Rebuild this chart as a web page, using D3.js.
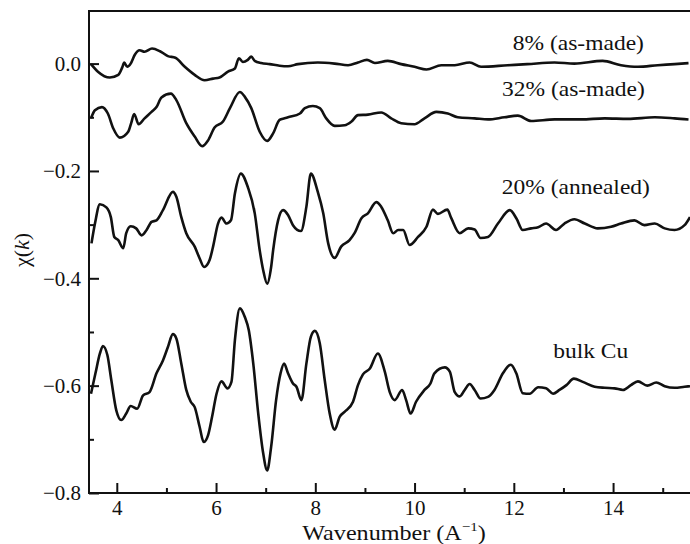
<!DOCTYPE html>
<html>
<head>
<meta charset="utf-8">
<script src="https://cdnjs.cloudflare.com/ajax/libs/d3/7.8.5/d3.min.js"></script>
<style>
    body { margin: 0; background: #fff; }
    svg text { font-family: "Liberation Serif", "DejaVu Serif", serif; fill: #111; }
</style>
</head>
<body>
<svg id="chart" width="690" height="544"></svg>
<script>
'use strict';

// chi(k) traces, k in inverse angstrom
let k8 = [3.48, 3.62, 3.86, 4.03, 4.11, 4.15, 4.21, 4.28, 4.36, 4.46, 4.56, 4.71, 4.87, 5.03, 5.18, 5.37, 5.57, 5.77, 5.94, 6.07, 6.24, 6.38, 6.46, 6.54, 6.64, 6.71, 6.78, 6.91, 7.08, 7.28, 7.45, 7.65, 8.05, 8.39, 8.66, 8.86, 9.04, 9.20, 9.46, 9.73, 10.00, 10.24, 10.54, 10.81, 11.11, 11.34, 11.88, 12.27, 12.82, 13.22, 13.79, 14.16, 14.50, 14.90, 15.24, 15.52],
    chi8 = [-0.001, -0.015, -0.026, -0.021, -0.007, 0.002, -0.006, 0.000, 0.016, 0.025, 0.022, 0.028, 0.023, 0.014, 0.011, -0.006, -0.021, -0.031, -0.028, -0.026, -0.015, -0.009, 0.010, 0.003, 0.007, 0.013, 0.005, 0.001, -0.001, -0.004, -0.005, -0.001, 0.002, 0.000, -0.003, 0.002, 0.007, 0.001, 0.005, -0.001, -0.006, -0.011, -0.003, -0.003, 0.002, -0.006, -0.003, -0.001, 0.002, 0.000, 0.005, -0.003, -0.006, -0.003, -0.001, 0.001];

let k32 = [3.48, 3.56, 3.70, 3.82, 3.93, 4.06, 4.23, 4.29, 4.35, 4.44, 4.56, 4.70, 4.80, 4.90, 5.09, 5.20, 5.40, 5.57, 5.72, 5.84, 5.97, 6.14, 6.28, 6.48, 6.58, 6.71, 6.88, 7.03, 7.15, 7.28, 7.38, 7.45, 7.69, 7.79, 7.95, 8.09, 8.22, 8.39, 8.59, 8.73, 8.86, 9.06, 9.33, 9.53, 9.73, 10.00, 10.20, 10.44, 10.67, 10.87, 11.21, 11.48, 11.81, 12.08, 12.35, 12.82, 13.36, 13.83, 14.30, 14.84, 15.24, 15.52],
    chi32 = [-0.102, -0.087, -0.081, -0.093, -0.121, -0.138, -0.127, -0.111, -0.094, -0.113, -0.102, -0.090, -0.081, -0.063, -0.056, -0.068, -0.111, -0.136, -0.154, -0.143, -0.119, -0.108, -0.083, -0.053, -0.062, -0.083, -0.127, -0.144, -0.130, -0.105, -0.102, -0.100, -0.093, -0.083, -0.079, -0.083, -0.102, -0.116, -0.115, -0.108, -0.096, -0.095, -0.091, -0.102, -0.111, -0.113, -0.102, -0.090, -0.093, -0.100, -0.102, -0.104, -0.100, -0.097, -0.107, -0.104, -0.104, -0.102, -0.103, -0.100, -0.102, -0.104];

let k20 = [3.49, 3.56, 3.66, 3.79, 3.88, 3.95, 4.03, 4.13, 4.19, 4.28, 4.39, 4.50, 4.60, 4.70, 4.80, 4.93, 5.13, 5.20, 5.30, 5.40, 5.57, 5.67, 5.76, 5.87, 5.94, 6.04, 6.11, 6.21, 6.30, 6.38, 6.50, 6.64, 6.78, 6.88, 6.95, 7.03, 7.11, 7.15, 7.25, 7.35, 7.45, 7.55, 7.71, 7.82, 7.91, 8.05, 8.16, 8.26, 8.39, 8.52, 8.69, 8.79, 8.93, 9.06, 9.23, 9.33, 9.46, 9.57, 9.67, 9.77, 9.90, 10.07, 10.24, 10.37, 10.47, 10.66, 10.74, 10.91, 11.08, 11.21, 11.33, 11.48, 11.68, 11.92, 12.05, 12.18, 12.35, 12.49, 12.65, 12.85, 13.02, 13.22, 13.43, 13.69, 13.96, 14.16, 14.43, 14.63, 14.84, 15.04, 15.24, 15.44, 15.55],
    chi20 = [-0.335, -0.298, -0.262, -0.268, -0.286, -0.323, -0.329, -0.344, -0.316, -0.303, -0.307, -0.320, -0.310, -0.295, -0.292, -0.273, -0.239, -0.248, -0.286, -0.316, -0.341, -0.363, -0.379, -0.366, -0.341, -0.298, -0.287, -0.298, -0.292, -0.242, -0.205, -0.230, -0.279, -0.348, -0.385, -0.410, -0.379, -0.348, -0.292, -0.273, -0.282, -0.301, -0.312, -0.267, -0.205, -0.239, -0.279, -0.335, -0.362, -0.341, -0.329, -0.316, -0.288, -0.279, -0.258, -0.267, -0.292, -0.316, -0.310, -0.310, -0.338, -0.323, -0.304, -0.272, -0.280, -0.272, -0.288, -0.316, -0.307, -0.309, -0.325, -0.323, -0.298, -0.273, -0.288, -0.310, -0.307, -0.305, -0.298, -0.310, -0.298, -0.290, -0.298, -0.307, -0.304, -0.298, -0.292, -0.301, -0.298, -0.307, -0.310, -0.301, -0.286];

let kBulk = [3.48, 3.57, 3.66, 3.72, 3.81, 3.89, 3.99, 4.09, 4.19, 4.28, 4.41, 4.53, 4.66, 4.80, 4.93, 5.03, 5.13, 5.20, 5.30, 5.40, 5.49, 5.57, 5.67, 5.75, 5.84, 5.92, 6.01, 6.11, 6.23, 6.31, 6.38, 6.48, 6.58, 6.66, 6.75, 6.85, 6.95, 7.03, 7.11, 7.21, 7.30, 7.37, 7.45, 7.55, 7.62, 7.72, 7.82, 7.91, 7.99, 8.09, 8.19, 8.29, 8.39, 8.49, 8.59, 8.76, 8.86, 8.96, 9.10, 9.26, 9.40, 9.50, 9.60, 9.75, 9.83, 9.92, 10.03, 10.20, 10.32, 10.40, 10.61, 10.71, 10.81, 10.91, 11.01, 11.11, 11.21, 11.33, 11.48, 11.61, 11.78, 11.94, 12.05, 12.18, 12.32, 12.49, 12.65, 12.79, 12.92, 13.06, 13.21, 13.39, 13.63, 13.83, 14.03, 14.20, 14.36, 14.50, 14.69, 14.87, 15.04, 15.24, 15.44, 15.55],
    chiBulk = [-0.615, -0.577, -0.540, -0.526, -0.543, -0.590, -0.646, -0.664, -0.652, -0.638, -0.643, -0.618, -0.612, -0.577, -0.553, -0.528, -0.504, -0.512, -0.559, -0.608, -0.630, -0.640, -0.677, -0.705, -0.692, -0.658, -0.615, -0.592, -0.605, -0.593, -0.515, -0.456, -0.472, -0.497, -0.559, -0.652, -0.726, -0.758, -0.714, -0.627, -0.577, -0.559, -0.577, -0.596, -0.602, -0.627, -0.559, -0.509, -0.498, -0.521, -0.590, -0.652, -0.682, -0.658, -0.649, -0.630, -0.599, -0.579, -0.568, -0.540, -0.574, -0.612, -0.627, -0.608, -0.627, -0.652, -0.630, -0.608, -0.596, -0.577, -0.566, -0.574, -0.612, -0.620, -0.608, -0.597, -0.608, -0.624, -0.621, -0.608, -0.577, -0.561, -0.577, -0.614, -0.615, -0.603, -0.605, -0.615, -0.608, -0.599, -0.587, -0.593, -0.602, -0.604, -0.605, -0.608, -0.599, -0.592, -0.600, -0.594, -0.601, -0.604, -0.602, -0.601];

let seriesLabels = ["8% (as-made)", "32% (as-made)", "20% (annealed)", "bulk Cu"],
    labelK = [13.3, 13.2, 13.25, 13.55],
    labelChi = [0.026, -0.061, -0.243, -0.548];

let xMajor = [4, 6, 8, 10, 12, 14],
    xMinor = [5, 7, 9, 11, 13, 15],
    yMajor = [0.0, -0.2, -0.4, -0.6, -0.8],
    yMinor = [-0.1, -0.3, -0.5, -0.7];

let svg = d3.select("#chart"),
    mLeft = 89, mRight = 690, mTop = 11, mBottom = 493;

let x = d3.scaleLinear().domain([3.44, 15.55]).range([mLeft, mRight]),
    y = d3.scaleLinear().domain([-0.8, 0.098]).range([mBottom, mTop]);

let fmt = d3.format(".1f");

// major ticks with labels, pointing into the plot
svg.append("g")
    .attr("transform", "translate(0," + mBottom + ")")
    .call(d3.axisBottom(x).tickValues(xMajor).tickSize(-10).tickPadding(7).tickFormat(d3.format("d")))
    .call(styleAxis);
svg.append("g")
    .attr("transform", "translate(" + mLeft + ",0)")
    .call(d3.axisLeft(y).tickValues(yMajor).tickSize(-10).tickPadding(8).tickFormat(fmt))
    .call(styleAxis);

// minor ticks
svg.append("g")
    .attr("transform", "translate(0," + mBottom + ")")
    .call(d3.axisBottom(x).tickValues(xMinor).tickSize(-5).tickFormat(""))
    .call(styleAxis);
svg.append("g")
    .attr("transform", "translate(" + mLeft + ",0)")
    .call(d3.axisLeft(y).tickValues(yMinor).tickSize(-5).tickFormat(""))
    .call(styleAxis);

// frame: left, bottom and top
svg.append("path")
    .attr("d", "M" + mRight + "," + mTop + "H" + mLeft + "V" + mBottom + "H" + mRight)
    .attr("fill", "none")
    .attr("stroke", "#111")
    .attr("stroke-width", 2);

let line = d3.line()
    .x(function(d) { return x(d[0]); })
    .y(function(d) { return y(d[1]); })
    .curve(d3.curveMonotoneX);

[[k8, chi8], [k32, chi32], [k20, chi20], [kBulk, chiBulk]].forEach(function(s) {
    svg.append("path")
        .datum(d3.zip(s[0], s[1]))
        .attr("fill", "none")
        .attr("stroke", "#111")
        .attr("stroke-width", 2.6)
        .attr("stroke-linejoin", "round")
        .attr("d", line);
});

// the original lettering is a little wide, so stretch it sideways
seriesLabels.forEach(function(t, i) {
    svg.append("text")
        .attr("transform", "translate(" + x(labelK[i]) + "," + y(labelChi[i]) + ") scale(1.12,1)")
        .attr("text-anchor", "middle")
        .style("font-size", "21px")
        .text(t);
});

// axis titles
let xt = svg.append("text")
    .attr("transform", "translate(394,540) scale(1.15,1)")
    .attr("text-anchor", "middle")
    .style("font-size", "21px")
    .text("Wavenumber (A");
xt.append("tspan").attr("dy", -9).style("font-size", "13px").text("\u22121");
xt.append("tspan").attr("dy", 9).text(")");

let yt = svg.append("text")
    .attr("transform", "translate(29,250) rotate(-90)")
    .attr("text-anchor", "middle")
    .style("font-size", "22px")
    .text("\u03c7(");
yt.append("tspan").style("font-style", "italic").text("k");
yt.append("tspan").text(")");

function styleAxis(g) {
    g.select(".domain").remove();
    g.selectAll(".tick line").attr("stroke", "#111").attr("stroke-width", 2);
    g.selectAll(".tick text")
        .style("font-family", "'Liberation Serif', serif")
        .style("font-size", "21px")
        .attr("fill", "#111");
}
</script>
</body>
</html>
